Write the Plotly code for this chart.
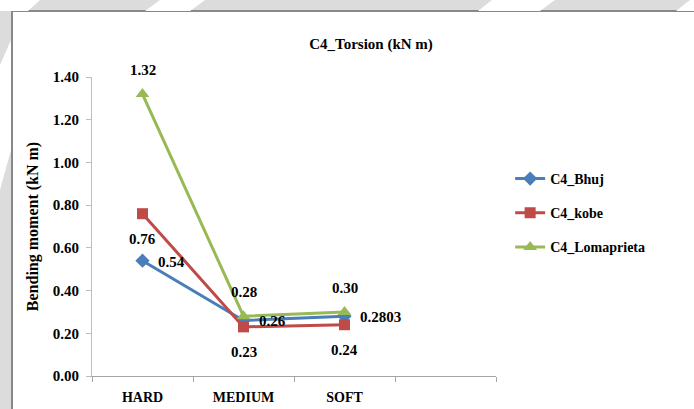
import plotly.graph_objects as go

categories = ["HARD", "MEDIUM", "SOFT"]
bhuj = [0.54, 0.26, 0.2803]
kobe = [0.76, 0.23, 0.24]
loma = [1.32, 0.28, 0.30]
bhuj_labels = ["0.54", "0.26", "0.2803"]
kobe_labels = ["0.76", "0.23", "0.24"]
loma_labels = ["1.32", "0.28", "0.30"]
y_ticks = [0, 0.2, 0.4, 0.6, 0.8, 1.0, 1.2, 1.4]

W, H = 694, 409
L, R, T, B = 92, 198, 77, 33
PW, PH = W - L - R, H - T - B

def px(x):
    return (x - L) / PW

def py(y):
    return (H - B - y) / PH

FONT = "Liberation Serif, Times New Roman, serif"

def f(size):
    return dict(family=FONT, size=size, color="black", weight="bold")

fig = go.Figure()
series = [
    ("C4_Bhuj", bhuj, "#4a7ebb", "diamond", 11, "a"),
    ("C4_kobe", kobe, "#be4b48", "square", 11, "b"),
    ("C4_Lomaprieta", loma, "#98b954", "triangle-up", 12, "c"),
]
for name, vals, col, sym, size, grp in series:
    fig.add_trace(go.Scatter(
        x=categories, y=vals, name=name, mode="lines+markers",
        line=dict(color=col, width=3),
        marker=dict(symbol=sym, size=size, color=col),
        legendgroup=grp, cliponaxis=False))

annotations = []
for c, v, t in zip(categories, bhuj, bhuj_labels):
    annotations.append(dict(x=c, y=v, text=t, showarrow=False, xanchor="left",
                            yanchor="middle", xshift=13, yshift=-1, font=f(15)))
for c, v, t in zip(categories, kobe, kobe_labels):
    annotations.append(dict(x=c, y=v, text=t, showarrow=False, xanchor="center",
                            yanchor="middle", yshift=-25, font=f(15)))
for c, v, t in zip(categories, loma, loma_labels):
    annotations.append(dict(x=c, y=v, text=t, showarrow=False, xanchor="center",
                            yanchor="middle", yshift=24, font=f(15)))

shapes = []
shapes.append(dict(type="rect", xref="paper", yref="paper", layer="below",
                   x0=px(12), x1=px(W + 10), y0=py(H + 10), y1=py(11),
                   fillcolor="white", line=dict(color="#888888", width=2)))

def stripe(x_top0, x_top1, x_bot0, x_bot1, y0, y1):
    return dict(type="path", xref="paper", yref="paper", layer="below",
                path=f"M {px(x_top0)} {py(y0)} L {px(x_top1)} {py(y0)} "
                     f"L {px(x_bot1)} {py(y1)} L {px(x_bot0)} {py(y1)} Z",
                fillcolor="white", line=dict(width=0))
shapes.append(stripe(0, 40, 0, 28, 0, 11))
shapes.append(stripe(160, 205, 145, 190, 0, 11))
shapes.append(stripe(492, 555, 478, 540, 0, 11))
shapes.append(stripe(690, 700, 676, 700, 0, 11))
shapes.append(dict(type="path", xref="paper", yref="paper", layer="below",
                   path=f"M {px(0)} {py(65)} L {px(11)} {py(40)} L {px(11)} {py(150)} L {px(0)} {py(190)} Z",
                   fillcolor="white", line=dict(width=0)))

fig.update_layout(
    width=W, height=H,
    font=dict(family=FONT, color="black"),
    margin=dict(l=L, r=R, t=T, b=B, autoexpand=False),
    paper_bgcolor="#dcdcdc",
    plot_bgcolor="white",
    shapes=shapes,
    annotations=annotations,
    title=dict(text="C4_Torsion (kN m)", x=371 / W, xanchor="center",
               y=1 - 44 / H, yanchor="middle", font=f(15)),
    legend=dict(x=1.035, xanchor="left", y=py(213), yanchor="middle",
                font=f(14), bgcolor="rgba(0,0,0,0)", tracegroupgap=13, itemwidth=30),
    xaxis=dict(type="category", categoryarray=categories + [" "],
               range=[-0.5, 3.5], tickson="boundaries", automargin=False,
               showline=True, linecolor="#a6a6a6", linewidth=1,
               ticks="outside", ticklen=5, tickcolor="#a6a6a6",
               ticklabelstandoff=8,
               showgrid=False, zeroline=False, tickfont=f(14)),
    yaxis=dict(range=[0, 1.4], tickvals=y_ticks, tickformat=".2f", automargin=False,
               showline=True, linecolor="#bfbfbf", linewidth=1,
               ticks="outside", ticklen=5, tickcolor="#bfbfbf",
               ticklabelstandoff=4,
               showgrid=False, zeroline=False,
               title=dict(text="Bending moment (kN m)", standoff=10, font=f(16)),
               tickfont=f(15)),
)

fig.write_html("out.html")
